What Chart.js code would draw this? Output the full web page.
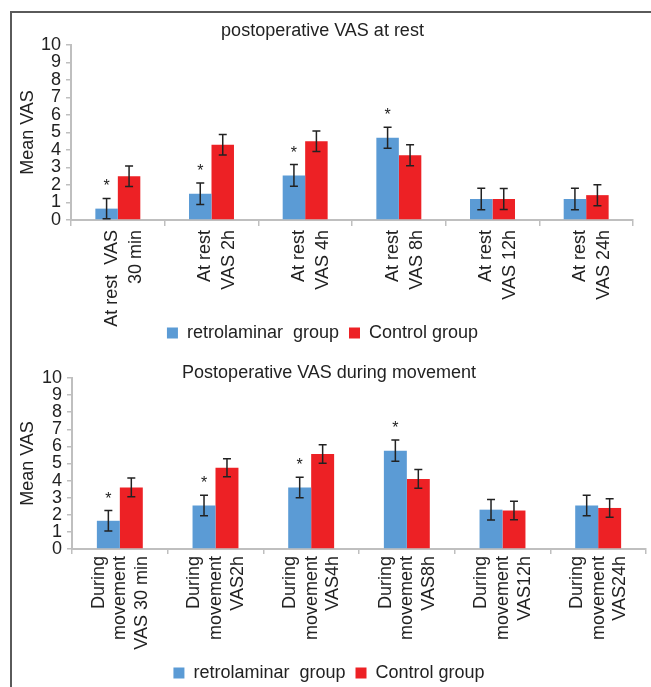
<!DOCTYPE html>
<html>
<head>
<meta charset="utf-8">
<script src="https://cdn.jsdelivr.net/npm/chart.js@4.4.1/dist/chart.umd.min.js"></script>
<style>
    body { margin: 0; background: #fff; width: 651px; height: 687px; overflow: hidden; position: relative; }
    .frame { position: absolute; left: 10px; top: 11px; width: 700px; height: 720px; border-left: 2px solid #5a5a5a; border-top: 2px solid #5a5a5a; }
    canvas { position: absolute; left: 12px; }
    #rest { top: 13px; }
    #move { top: 345px; }
</style>
</head>
<body>
<div class="frame"></div>
<canvas id="rest" width="639" height="360"></canvas>
<canvas id="move" width="639" height="347"></canvas>
<script>
Chart.defaults.font.family = "'Liberation Sans', Arial, sans-serif";
Chart.defaults.color = "#222";

const seriesNames = ["retrolaminar  group", "Control group"];

const restLabels = [
    ["At rest  VAS", "30 min"],
    ["At rest", "VAS 2h"],
    ["At rest", "VAS 4h"],
    ["At rest", "VAS 8h"],
    ["At rest", "VAS 12h"],
    ["At rest", "VAS 24h"],
];
const restRetro = [0.65, 1.5, 2.55, 4.7, 1.2, 1.2];
const restRetroErr = [0.58, 0.62, 0.62, 0.6, 0.62, 0.62];
const restControl = [2.5, 4.3, 4.5, 3.7, 1.2, 1.42];
const restControlErr = [0.58, 0.58, 0.58, 0.6, 0.6, 0.6];
const restStars = ["*", "*", "*", "*", "", ""];

const moveLabels = [
    ["During", "movement", "VAS 30 min"],
    ["During", "movement", "VAS2h"],
    ["During", "movement", "VAS4h"],
    ["During", "movement", "VAS8h"],
    ["During", "movement", "VAS12h"],
    ["During", "movement", "VAS24h"],
];
const moveRetro = [1.65, 2.55, 3.6, 5.75, 2.3, 2.55];
const moveRetroErr = [0.6, 0.6, 0.6, 0.62, 0.6, 0.6];
const moveControl = [3.6, 4.75, 5.55, 4.1, 2.25, 2.4];
const moveControlErr = [0.55, 0.53, 0.54, 0.55, 0.54, 0.54];
const moveStars = ["*", "*", "*", "*", "", ""];

// whiskers + significance stars, placed from the y scale
const errorBars = {
    id: "errorBars",
    afterDatasetsDraw(chart) {
        const ctx = chart.ctx;
        const y = chart.scales.y;
        ctx.save();
        ctx.strokeStyle = "#222";
        ctx.fillStyle = "#222";
        ctx.lineWidth = 1.5;
        ctx.font = "16px 'Liberation Sans', Arial, sans-serif";
        ctx.textAlign = "center";
        ctx.textBaseline = "alphabetic";
        chart.data.datasets.forEach((ds, i) => {
            chart.getDatasetMeta(i).data.forEach((bar, j) => {
                const hi = y.getPixelForValue(ds.data[j] + ds.errors[j]);
                const lo = y.getPixelForValue(ds.data[j] - ds.errors[j]);
                ctx.beginPath();
                ctx.moveTo(bar.x, hi);
                ctx.lineTo(bar.x, lo);
                ctx.moveTo(bar.x - 4, hi);
                ctx.lineTo(bar.x + 4, hi);
                ctx.moveTo(bar.x - 4, lo);
                ctx.lineTo(bar.x + 4, lo);
                ctx.stroke();
                if (ds.stars && ds.stars[j]) {
                    ctx.fillText(ds.stars[j], bar.x, hi - 7);
                }
            });
        });
        ctx.restore();
    },
};

// the legend sits right under the long rotated labels, so pull it up a bit
const liftLegend = {
    id: "liftLegend",
    afterLayout(chart, args, opts) {
        if (!opts.by) return;
        chart.legend.top -= opts.by;
        chart.legend.bottom -= opts.by;
    },
};

function vasChart(el, title, labels, retro, retroErr, control, controlErr, stars, lay) {
    return new Chart(el, {
        type: "bar",
        data: {
            labels: labels,
            datasets: [
                {
                    label: seriesNames[0],
                    data: retro,
                    errors: retroErr,
                    stars: stars,
                    backgroundColor: "#5B9BD5",
                    categoryPercentage: 0.48,
                    barPercentage: 1,
                },
                {
                    label: seriesNames[1],
                    data: control,
                    errors: controlErr,
                    backgroundColor: "#ED2125",
                    categoryPercentage: 0.48,
                    barPercentage: 1,
                },
            ],
        },
        options: {
            responsive: false,
            animation: false,
            layout: {
                padding: { left: 0, right: lay.right, top: 0, bottom: lay.bottom },
            },
            plugins: {
                title: {
                    display: true,
                    text: title,
                    color: "#222",
                    font: { size: 18, weight: "normal", lineHeight: 1 },
                    padding: { top: lay.titleTop, bottom: lay.titleBottom },
                },
                legend: {
                    position: "bottom",
                    labels: {
                        color: "#222",
                        font: { size: 18 },
                        boxWidth: 11,
                        boxHeight: 11,
                        padding: 10,
                    },
                },
                liftLegend: { by: lay.lift },
                tooltip: { enabled: false },
            },
            scales: {
                x: {
                    grid: {
                        drawOnChartArea: false,
                        tickLength: lay.xTick,
                        color: "#bfbfbf",
                        lineWidth: 1.5,
                    },
                    border: { color: "#bfbfbf", width: 2 },
                    ticks: {
                        autoSkip: false,
                        maxRotation: 90,
                        minRotation: 90,
                        padding: lay.xPad,
                        labelOffset: lay.labelShift,
                        color: "#222",
                        font: { size: 18, lineHeight: lay.lineH },
                    },
                    afterFit(s) {
                        s.height = lay.xHeight;
                        s.paddingLeft = 0;
                        s.paddingRight = 0;
                    },
                },
                y: {
                    min: 0,
                    max: 10,
                    ticks: {
                        stepSize: 1,
                        autoSkip: false,
                        padding: 5,
                        color: "#222",
                        font: { size: 18 },
                    },
                    grid: {
                        drawOnChartArea: false,
                        tickLength: 5,
                        color: "#bfbfbf",
                        lineWidth: 1.5,
                    },
                    border: { color: "#bfbfbf", width: 2 },
                    title: {
                        display: true,
                        text: "Mean VAS",
                        color: "#222",
                        font: { size: 18 },
                        padding: { top: 5, bottom: 0 },
                    },
                    afterFit(s) {
                        s.width = lay.yWidth;
                    },
                },
            },
        },
        plugins: [errorBars, liftLegend],
    });
}

vasChart(document.getElementById("rest"), "postoperative VAS at rest",
    restLabels, restRetro, restRetroErr, restControl, restControlErr, restStars,
    { right: 18, bottom: 1, titleTop: 9, titleBottom: 5, xHeight: 114, xTick: 6, xPad: 4,
      lineH: 1.33, labelShift: -6, yWidth: 59, lift: 20 });

vasChart(document.getElementById("move"), "Postoperative VAS during movement",
    moveLabels, moveRetro, moveRetroErr, moveControl, moveControlErr, moveStars,
    { right: 5, bottom: 0, titleTop: 19, titleBottom: -4, xHeight: 105, xTick: 5, xPad: 2,
      lineH: 1.2, labelShift: -21, yWidth: 60, lift: 0 });
</script>
</body>
</html>
